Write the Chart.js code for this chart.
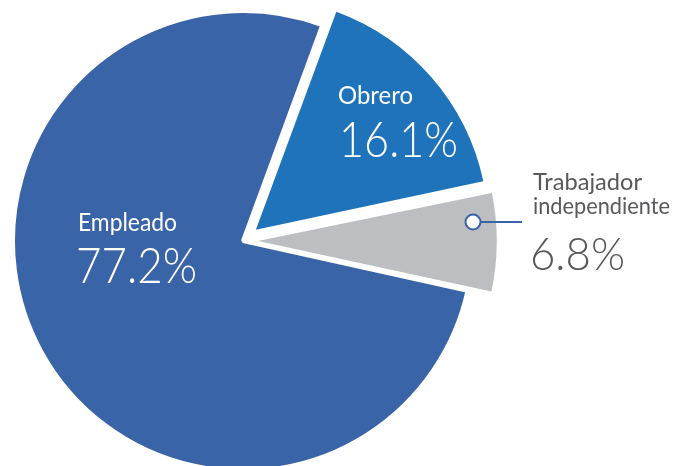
<!DOCTYPE html>
<html>
<head>
<meta charset="utf-8">
<script src="https://cdn.jsdelivr.net/npm/chart.js@4/dist/chart.umd.min.js"></script>
<style>
html,body{margin:0;padding:0;background:#fff;overflow:hidden;}
#c{display:block;}
</style>
</head>
<body>
<canvas id="c" width="681" height="466"></canvas>
<script>
// ---- data ----
const categories = ['Empleado', 'Obrero', 'Trabajador independiente'];
const shares = [77.2, 16.1, 6.8];
const shareLabels = ['77.2%', '16.1%', '6.8%'];
const sliceColors = ['#3A64A8', '#1F73BA', '#BCBEC1'];

function fitText(ctx, str, x, y, size, weight, targetW, color) {
  ctx.save();
  ctx.font = weight + ' ' + size + 'px Lato, "Open Sans", sans-serif';
  ctx.fillStyle = color;
  ctx.textBaseline = 'alphabetic';
  ctx.textAlign = 'left';
  const w = ctx.measureText(str).width;
  const sx = targetW / w;
  ctx.translate(x, y);
  ctx.scale(sx, 1);
  ctx.fillText(str, 0, 0);
  ctx.restore();
}

const labelPlugin = {
  id: 'labels',
  afterDraw(chart) {
    const ctx = chart.ctx;
    // Obrero
    fitText(ctx, categories[1], 338, 104, 25, 400, 75, '#ffffff');
    fitText(ctx, shareLabels[1], 339, 157, 49, 300, 119, '#ffffff');
    // Empleado
    fitText(ctx, categories[0], 78, 231, 25, 400, 99, '#ffffff');
    fitText(ctx, shareLabels[0], 76, 283, 49, 300, 121, '#ffffff');
    // Trabajador independiente
    const parts = categories[2].split(' ');
    fitText(ctx, parts[0], 533, 190, 23, 400, 109, '#58595B');
    fitText(ctx, parts[1], 533, 214, 23, 400, 137, '#58595B');
    fitText(ctx, shareLabels[2], 530, 270, 45, 300, 95, '#58595B');
    // leader
    ctx.save();
    ctx.strokeStyle = '#3A64A8';
    ctx.lineWidth = 2;
    ctx.beginPath();
    ctx.moveTo(481, 222);
    ctx.lineTo(522, 222);
    ctx.stroke();
    ctx.beginPath();
    ctx.arc(473, 222, 7.5, 0, Math.PI * 2);
    ctx.fillStyle = '#ffffff';
    ctx.fill();
    ctx.stroke();
    ctx.restore();
  }
};

new Chart(document.getElementById('c'), {
  type: 'pie',
  data: {
    labels: categories,
    datasets: [{
      data: shares,
      backgroundColor: sliceColors,
      borderColor: '#ffffff',
      borderWidth: [4, 0, 0],
      offset: [0, 68, 60],
      hoverOffset: 0,
      clip: false
    }]
  },
  options: {
    responsive: false,
    animation: false,
    rotation: 102.5,
    radius: 230,
    layout: { padding: { left: 0, right: 195, top: 16, bottom: 0 } },
    plugins: { legend: { display: false }, tooltip: { enabled: false } },
    events: []
  },
  plugins: [labelPlugin]
});
</script>
</body>
</html>
